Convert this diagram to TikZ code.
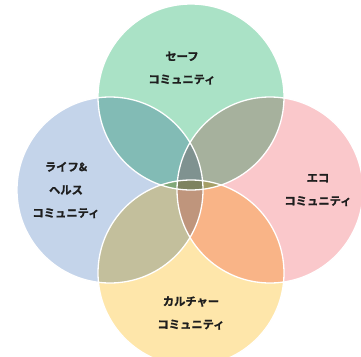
\documentclass[tikz,border=0pt]{standalone}
\usepackage{fontspec}
\newfontfamily\jp{Noto Sans CJK JP}[BoldFont={Noto Sans CJK JP Bold}, BoldFeatures={FakeBold=1.2}]
\definecolor{cgreen}{RGB}{170,226,198}
\definecolor{cblue}{RGB}{196,212,234}
\definecolor{cpink}{RGB}{250,200,203}
\definecolor{cyellow}{RGB}{254,230,170}
\definecolor{ctext}{RGB}{30,30,30}
\tikzset{
  petal/.style={circle, minimum size=186pt, inner sep=0pt, draw=none},
  ring/.style={draw=white, line width=1.3pt},
  lbl/.style={font=\jp\bfseries\fontsize{11.3pt}{23pt}\selectfont, text=ctext, align=center, inner sep=0pt}
}
\begin{document}
\begin{tikzpicture}[x=1pt,y=-1pt]
\useasboundingbox (0,0) rectangle (361,356);
\begin{scope}[blend group=multiply]
  \node[petal, fill=cgreen]  (g) at (191,97)  {};
  \node[petal, fill=cblue]   (b) at (110,190) {};
  \node[petal, fill=cpink]   (p) at (270,190) {};
  \node[petal, fill=cyellow] (y) at (191,273) {};
\end{scope}
\foreach \n in {g,b,p,y} \draw[ring] (\n) circle[radius=93pt];
\node[lbl] (tg) at (182,68)  {セーフ\\コミュニティ};
\node[lbl] (tb) at (66,190)  {ライフ\&\\ヘルス\\コミュニティ};
\node[lbl] (tp) at (318,190) {エコ\\コミュニティ};
\node[lbl] (ty) at (191,313) {カルチャー\\コミュニティ};
\end{tikzpicture}
\end{document}
